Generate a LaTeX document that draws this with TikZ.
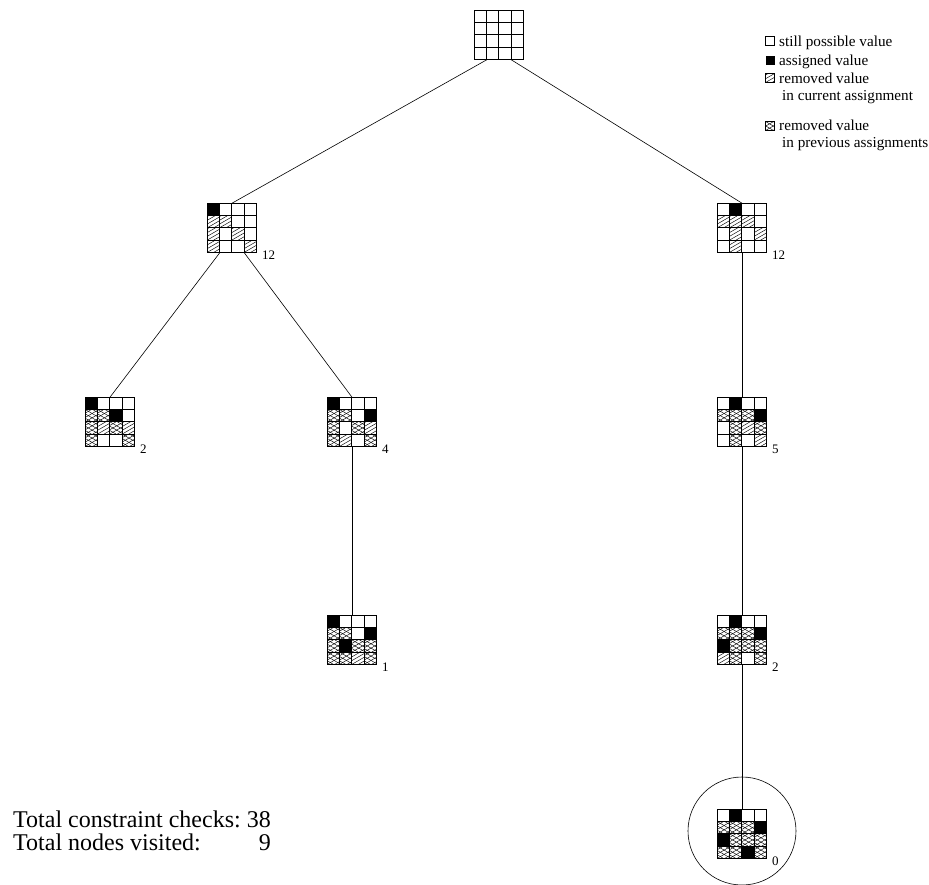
\documentclass[tikz,border=0pt]{standalone}
\usepackage{fontspec}
\setmainfont{Liberation Serif}
\newcommand\cellsz{12.3}
\tikzset{
  gridline/.style={line width=0.9pt, line cap=rect},
  hatchline/.style={line width=0.45pt},
  conn/.style={line width=0.6pt},
  gridbox/.style={rectangle, minimum size=49.2pt, inner sep=0pt, draw=none},
  numlabel/.style={font=\fontsize{13}{14}\selectfont, inner sep=0pt, anchor=west},
  legtext/.style={font=\fontsize{15.2}{17}\selectfont, inner sep=0pt, anchor=base west, align=left},
  totaltext/.style={font=\fontsize{24}{23}\selectfont, inner sep=0pt, anchor=west},
  goalring/.style={circle, draw, line width=0.6pt, minimum size=108pt, inner sep=0pt},
}
\newcommand\hatchcell[3]{%
  \begin{scope}
    \clip (#1,#2) rectangle ++(#3,#3);
    \foreach \k in {-4,...,2}{\draw[hatchline] ({#1+\k*6.5},{#2+#3}) -- ++({#3*1.732},{-#3});}
  \end{scope}}
\newcommand\crosscell[3]{%
  \begin{scope}
    \clip (#1,#2) rectangle ++(#3,#3);
    \foreach \k in {-4,...,2}{%
      \draw[hatchline] ({#1+\k*7.5},{#2+#3}) -- ++({#3*1.732},{-#3});
      \draw[hatchline] ({#1+\k*7.5},{#2}) -- ++({#3*1.732},{#3});}
  \end{scope}}
\newcommand\qgrid[4]{%
  \node[gridbox] (#1) at (#2,#3) {};
  \begin{scope}[shift={(#1.north west)}]
    \foreach \c [count=\i from 0] in {#4}{%
      \pgfmathtruncatemacro\gc{mod(\i,4)}%
      \pgfmathtruncatemacro\gr{(\i-\gc)/4}%
      \pgfmathsetmacro\gx{\gc*\cellsz}%
      \pgfmathsetmacro\gy{\gr*\cellsz}%
      \if B\c \fill (\gx,\gy) rectangle ++(\cellsz,\cellsz);\fi
      \if H\c \hatchcell{\gx}{\gy}{\cellsz}\fi
      \if X\c \crosscell{\gx}{\gy}{\cellsz}\fi
    }
    \foreach \j in {0,...,4}{%
      \draw[gridline] ({\j*\cellsz},0) -- ({\j*\cellsz},{4*\cellsz});
      \draw[gridline] (0,{\j*\cellsz}) -- ({4*\cellsz},{\j*\cellsz});
    }
  \end{scope}}
\begin{document}
\begin{tikzpicture}[x=1pt,y=-1pt]
\useasboundingbox (0,0) rectangle (929,884);
% search tree
\qgrid{root}{499}{35}{W,W,W,W,W,W,W,W,W,W,W,W,W,W,W,W}
\qgrid{aL}{232}{228}{B,W,W,W,H,H,W,W,H,W,H,W,H,W,W,H}
\qgrid{aR}{742}{228}{W,B,W,W,H,H,H,W,W,H,W,H,W,H,W,W}
\qgrid{bA}{110}{422}{B,W,W,W,X,X,B,W,X,H,X,H,X,W,W,X}
\qgrid{bB}{352}{422}{B,W,W,W,X,X,W,B,X,W,X,H,X,H,W,X}
\qgrid{bC}{742}{422}{W,B,W,W,X,X,X,B,W,X,H,X,W,X,W,H}
\qgrid{cA}{352}{640}{B,W,W,W,X,X,W,B,X,B,X,X,X,X,H,X}
\qgrid{cB}{742}{640}{W,B,W,W,X,X,X,B,B,X,X,X,H,X,W,X}
\qgrid{dA}{742}{834}{W,B,W,W,X,X,X,B,B,X,X,X,X,X,B,X}
\node[goalring] (goal) at ([yshift=3pt]dA.center) {};
% counts
\node[numlabel] (laL) at ([xshift=5pt,yshift=-2pt]aL.south east) {12};
\node[numlabel] (laR) at ([xshift=5pt,yshift=-2pt]aR.south east) {12};
\node[numlabel] (lbA) at ([xshift=5pt,yshift=-2pt]bA.south east) {2};
\node[numlabel] (lbB) at ([xshift=5pt,yshift=-2pt]bB.south east) {4};
\node[numlabel] (lbC) at ([xshift=5pt,yshift=-2pt]bC.south east) {5};
\node[numlabel] (lcA) at ([xshift=5pt,yshift=-2pt]cA.south east) {1};
\node[numlabel] (lcB) at ([xshift=5pt,yshift=-2pt]cB.south east) {2};
\node[numlabel] (ldA) at ([xshift=5pt,yshift=-2pt]dA.south east) {0};
% connectors
\draw[conn] ([xshift=-12.3pt]root.south) -- (aL.north);
\draw[conn] ([xshift=12.3pt]root.south) -- (aR.north);
\draw[conn] ([xshift=-12.3pt]aL.south) -- (bA.north);
\draw[conn] ([xshift=12.3pt]aL.south) -- (bB.north);
\draw[conn] (aR.south) -- (bC.north);
\draw[conn] (bB.south) -- (cA.north);
\draw[conn] (bC.south) -- (cB.north);
\draw[conn] (cB.south) -- (dA.north);
% legend
\draw[line width=0.6pt] (765.5,36.5) rectangle ++(9,9);
\fill (765.5,55.5) rectangle ++(9,9);
\hatchcell{765.5}{73.5}{9}
\draw[line width=0.6pt] (765.5,73.5) rectangle ++(9,9);
\crosscell{765.5}{121.5}{9}
\draw[line width=0.6pt] (765.5,121.5) rectangle ++(9,9);
\node[legtext] (lg1) at (779,46) {still possible value};
\node[legtext] (lg2) at (779,65) {assigned value};
\node[legtext] (lg3) at (779,100) {removed value\\\hspace*{3pt}in current assignment};
\node[legtext] (lg4) at (779,147) {removed value\\\hspace*{3pt}in previous assignments};
% totals
\node[totaltext] (tot) at (13,834) {\begin{tabular}{@{}l@{\ }r@{}}Total constraint checks: & 38\\ Total nodes visited: & 9\end{tabular}};
\end{tikzpicture}
\end{document}
